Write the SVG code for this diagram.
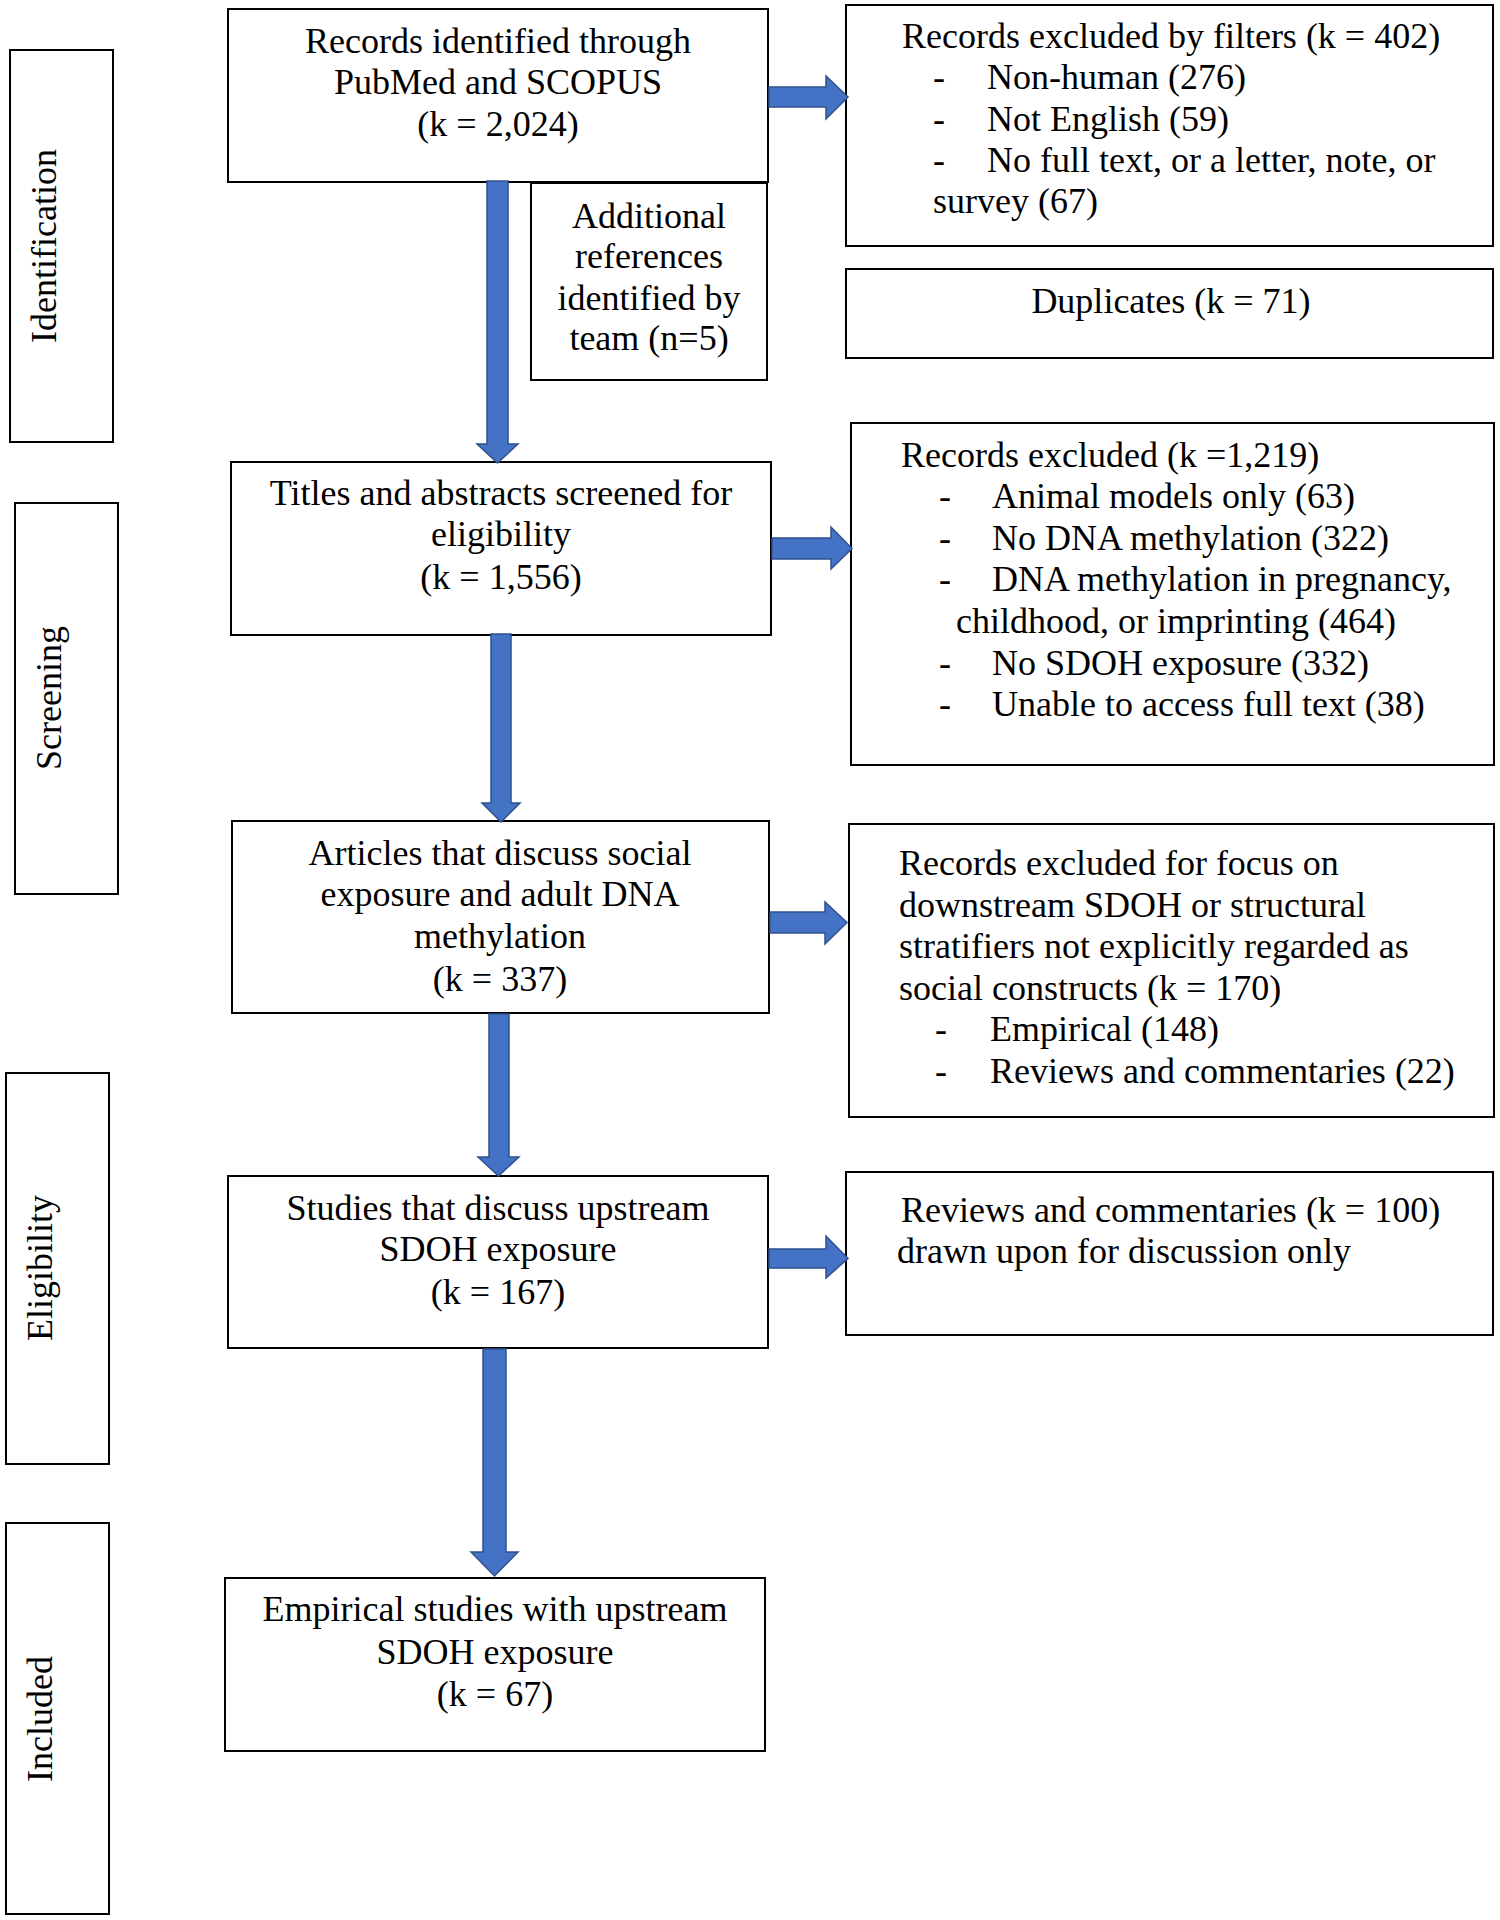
<svg xmlns="http://www.w3.org/2000/svg" width="1500" height="1920" viewBox="0 0 1500 1920">
<style>
.box{fill:#fff;stroke:#000;stroke-width:2}
.t{font-family:"Liberation Serif","Times New Roman",serif;font-size:36px;fill:#000}
.c{text-anchor:middle}
.arr{fill:#4472C4;stroke:#2F528F;stroke-width:1.5;stroke-linejoin:miter}
</style>
<rect width="1500" height="1920" fill="#fff"/>
<g id="lane-identification"><rect class="box" x="10" y="50" width="103" height="392"/><text class="t c" transform="translate(56,246) rotate(-90)">Identification</text></g>
<g id="lane-screening"><rect class="box" x="15" y="503" width="103" height="391"/><text class="t c" transform="translate(61,698) rotate(-90)">Screening</text></g>
<g id="lane-eligibility"><rect class="box" x="6" y="1073" width="103" height="391"/><text class="t c" transform="translate(52,1268) rotate(-90)">Eligibility</text></g>
<g id="lane-included"><rect class="box" x="6" y="1523" width="103" height="391"/><text class="t c" transform="translate(52,1719) rotate(-90)">Included</text></g>

<g id="n-identified"><rect class="box" x="228" y="9" width="540" height="173"/>
<text class="t c" x="498" y="53">Records identified through</text>
<text class="t c" x="498" y="94">PubMed and SCOPUS</text>
<text class="t c" x="498" y="136">(k = 2,024)</text></g>
<g id="n-additional"><rect class="box" x="531" y="183" width="236" height="197"/>
<text class="t c" x="649" y="228">Additional</text>
<text class="t c" x="649" y="268">references</text>
<text class="t c" x="649" y="310">identified by</text>
<text class="t c" x="649" y="350">team (n=5)</text></g>
<g id="n-screened"><rect class="box" x="231" y="462" width="540" height="173"/>
<text class="t c" x="501" y="505">Titles and abstracts screened for</text>
<text class="t c" x="501" y="546">eligibility</text>
<text class="t c" x="501" y="589">(k = 1,556)</text></g>
<g id="n-articles"><rect class="box" x="232" y="821" width="537" height="192"/>
<text class="t c" x="500" y="865">Articles that discuss social</text>
<text class="t c" x="500" y="906">exposure and adult DNA</text>
<text class="t c" x="500" y="948">methylation</text>
<text class="t c" x="500" y="991">(k = 337)</text></g>
<g id="n-studies"><rect class="box" x="228" y="1176" width="540" height="172"/>
<text class="t c" x="498" y="1220">Studies that discuss upstream</text>
<text class="t c" x="498" y="1261">SDOH exposure</text>
<text class="t c" x="498" y="1304">(k = 167)</text></g>
<g id="n-empirical"><rect class="box" x="225" y="1578" width="540" height="173"/>
<text class="t c" x="495" y="1621">Empirical studies with upstream</text>
<text class="t c" x="495" y="1664">SDOH exposure</text>
<text class="t c" x="495" y="1706">(k = 67)</text></g>

<g id="n-filters"><rect class="box" x="846" y="5" width="647" height="241"/>
<text class="t" x="902" y="48">Records excluded by filters (k = 402)</text>
<text class="t" x="933" y="89">-</text><text class="t" x="987" y="89">Non-human (276)</text>
<text class="t" x="933" y="131">-</text><text class="t" x="987" y="131">Not English (59)</text>
<text class="t" x="933" y="172">-</text><text class="t" x="987" y="172">No full text, or a letter, note, or</text>
<text class="t" x="933" y="213">survey (67)</text></g>
<g id="n-duplicates"><rect class="box" x="846" y="269" width="647" height="89"/>
<text class="t c" x="1171" y="313">Duplicates (k = 71)</text></g>
<g id="n-excluded1"><rect class="box" x="851" y="423" width="643" height="342"/>
<text class="t" x="901" y="467">Records excluded (k =1,219)</text>
<text class="t" x="939" y="508">-</text><text class="t" x="992" y="508">Animal models only (63)</text>
<text class="t" x="939" y="550">-</text><text class="t" x="992" y="550">No DNA methylation (322)</text>
<text class="t" x="939" y="591">-</text><text class="t" x="992" y="591">DNA methylation in pregnancy,</text>
<text class="t" x="956" y="633">childhood, or imprinting (464)</text>
<text class="t" x="939" y="675">-</text><text class="t" x="992" y="675">No SDOH exposure (332)</text>
<text class="t" x="939" y="716">-</text><text class="t" x="992" y="716">Unable to access full text (38)</text></g>
<g id="n-excluded2"><rect class="box" x="849" y="824" width="645" height="293"/>
<text class="t" x="899" y="875">Records excluded for focus on</text>
<text class="t" x="899" y="917">downstream SDOH or structural</text>
<text class="t" x="899" y="958">stratifiers not explicitly regarded as</text>
<text class="t" x="899" y="1000">social constructs (k = 170)</text>
<text class="t" x="935" y="1041">-</text><text class="t" x="990" y="1041">Empirical (148)</text>
<text class="t" x="935" y="1083">-</text><text class="t" x="990" y="1083">Reviews and commentaries (22)</text></g>
<g id="n-reviews"><rect class="box" x="846" y="1172" width="647" height="163"/>
<text class="t" x="901" y="1222">Reviews and commentaries (k = 100)</text>
<text class="t" x="897" y="1263">drawn upon for discussion only</text></g>

<g id="connectors">
<polygon class="arr" points="487,181 508,181 508,444 518,444 497.5,463 477,444 487,444"/>
<polygon class="arr" points="491,634 511,634 511,803 520,803 501,822 482,803 491,803"/>
<polygon class="arr" points="489,1014 509,1014 509,1157 519,1157 498.5,1176 478,1157 489,1157"/>
<polygon class="arr" points="483,1349 506,1349 506,1552 518,1552 494.5,1576 471,1552 483,1552"/>
<polygon class="arr" points="769,87 826,87 826,76 848,97 826,119 826,107 769,107"/>
<polygon class="arr" points="772,538 831,538 831,527 852,548.5 831,569 831,559 772,559"/>
<polygon class="arr" points="770,912 825,912 825,902 847,922.5 825,944 825,933 770,933"/>
<polygon class="arr" points="769,1249 826,1249 826,1236 848,1258.5 826,1278 826,1268 769,1268"/>
</g>
</svg>
